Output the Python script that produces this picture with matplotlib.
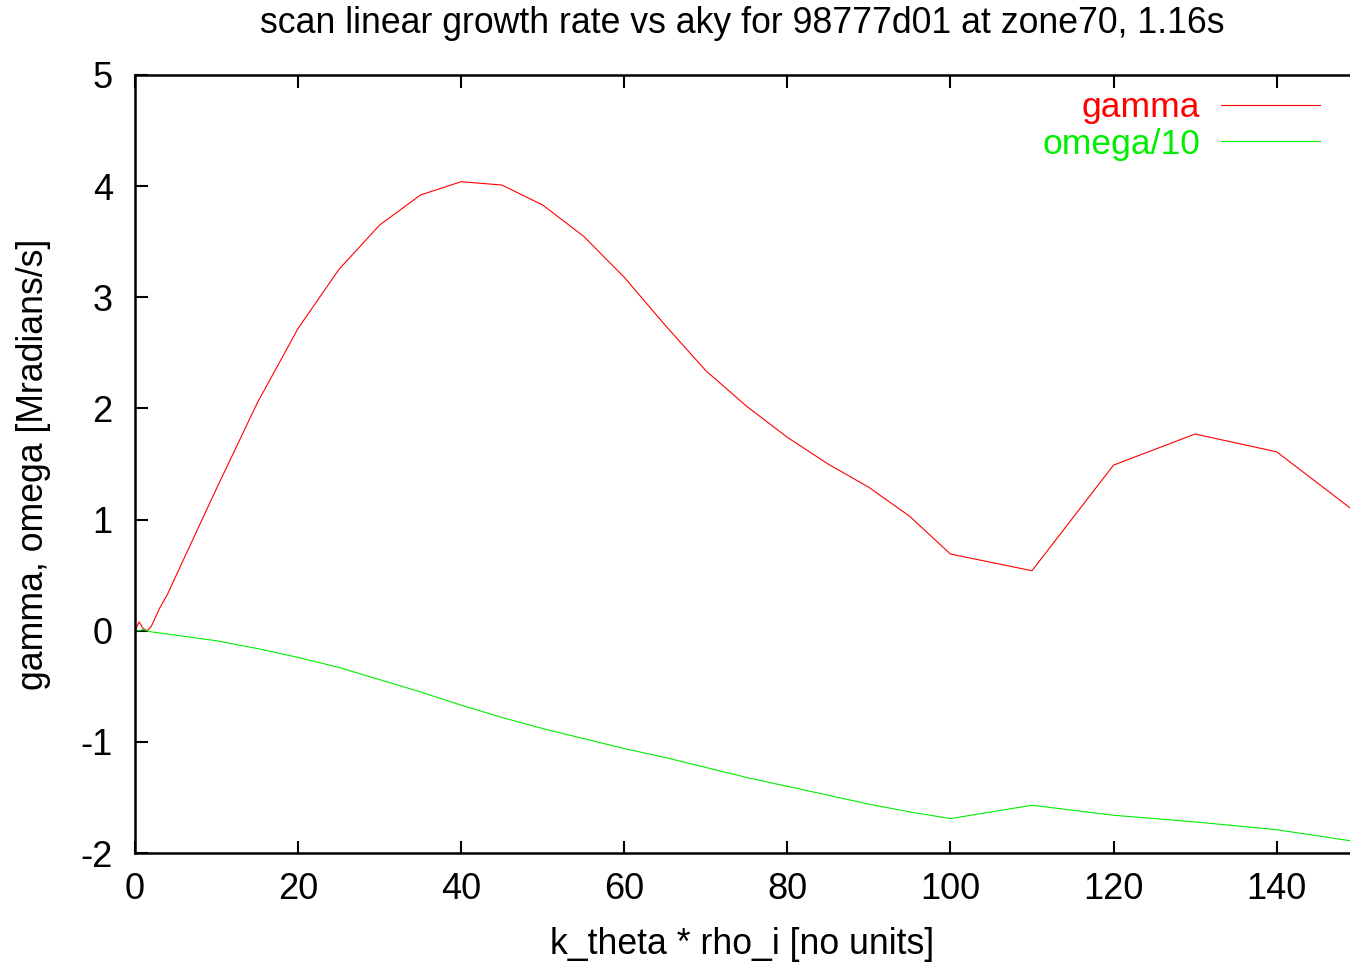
import numpy as np
import matplotlib.pyplot as plt

# k_theta * rho_i scan
aky = [0, 0.5, 1, 1.5, 2, 3, 4, 5, 10, 15, 20, 25, 30, 35, 40, 45, 50, 55, 60,
       65, 70, 75, 80, 85, 90, 95, 100, 110, 120, 130, 140, 150]
gamma = [0, 0.08, 0.02, 0.0, 0.04, 0.2, 0.33, 0.49, 1.28, 2.05, 2.72, 3.25,
         3.65, 3.92, 4.04, 4.01, 3.83, 3.55, 3.18, 2.75, 2.34, 2.02, 1.74,
         1.50, 1.29, 1.03, 0.69, 0.54, 1.49, 1.77, 1.61, 1.05]
omega10 = [0, 0.0, 0.01, 0.0, -0.01, -0.02, -0.03, -0.04, -0.09, -0.16,
           -0.24, -0.33, -0.44, -0.55, -0.67, -0.78, -0.88, -0.97, -1.06,
           -1.14, -1.23, -1.32, -1.40, -1.48, -1.56, -1.63, -1.69, -1.57,
           -1.66, -1.72, -1.79, -1.90]

xticks = [0, 20, 40, 60, 80, 100, 120, 140]
yticks = [-2, -1, 0, 1, 2, 3, 4, 5]

plt.rcParams['font.family'] = ['Liberation Sans', 'DejaVu Sans']
plt.rcParams['axes.unicode_minus'] = False

fig = plt.figure(figsize=(13.5, 9.64), dpi=100)
ax = fig.add_axes([0.1, 0.1151, 0.9, 0.8071])

ax.plot(aky, gamma, color='red', lw=0.8, label='gamma')
ax.plot(aky, omega10, color='#00ee00', lw=0.8, label='omega/10')

ax.set_xlim(0, 149)
ax.set_ylim(-2, 5)
ax.set_xticks(xticks)
ax.set_yticks(yticks)
ax.tick_params(direction='in', length=9, width=1.5, labelsize=26,
               top=True, right=False)
ax.tick_params(axis='x', pad=14)
ax.tick_params(axis='y', pad=16)
for s in ['left', 'bottom', 'top']:
    ax.spines[s].set_linewidth(1.8)
ax.spines['right'].set_visible(False)

ax.set_title('scan linear growth rate vs aky for 98777d01 at zone70, 1.16s',
             fontsize=25.7, pad=30)
ax.set_xlabel('k_theta * rho_i [no units]', fontsize=25.7, labelpad=14)
ax.set_ylabel('gamma, omega [Mradians/s]', fontsize=25.7, labelpad=21)

ax.legend(loc='upper right', markerfirst=False, frameon=False, fontsize=25.5,
          labelcolor='linecolor', handlelength=2.8, handletextpad=0.6,
          labelspacing=0.1, borderaxespad=0.3, bbox_to_anchor=(0.996, 1.011))

fig.savefig('out.png', dpi=100)
